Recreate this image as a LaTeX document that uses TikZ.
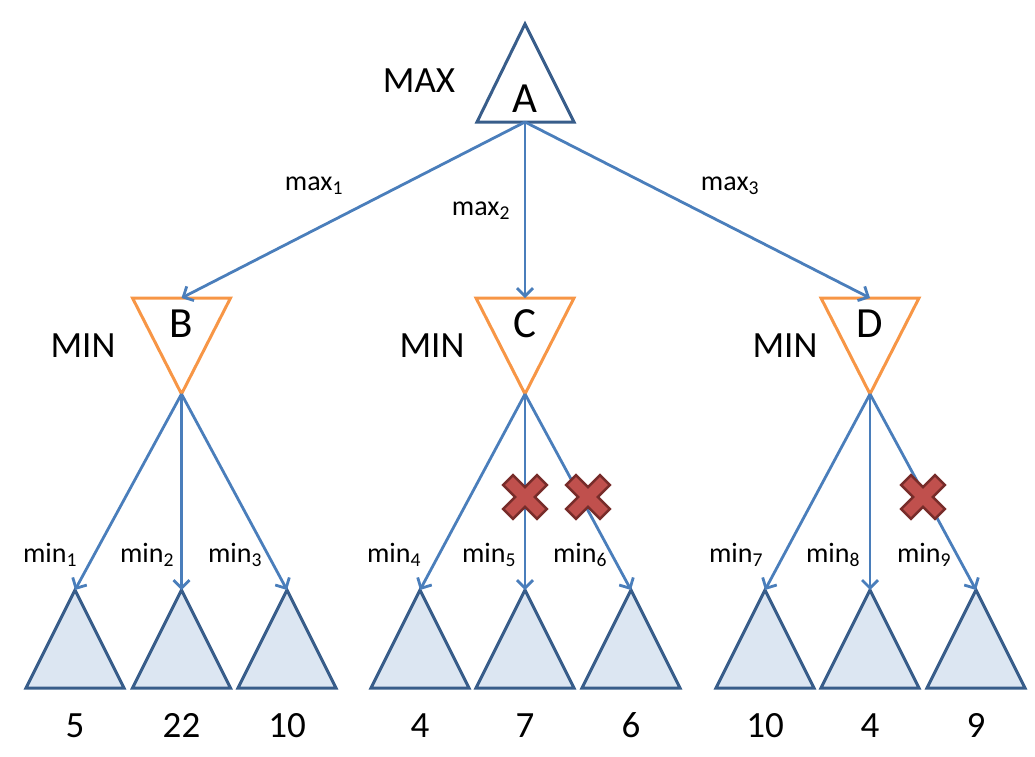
\documentclass[tikz,border=0pt]{standalone}
\usepackage{fontspec}
\setmainfont{Carlito}
\usetikzlibrary{arrows.meta}
\definecolor{maxline}{HTML}{385D8A}
\definecolor{minline}{HTML}{F79646}
\definecolor{leaffill}{HTML}{DCE6F2}
\definecolor{edgecol}{HTML}{4A7EBB}
\definecolor{crossfill}{HTML}{C0504D}
\definecolor{crossline}{HTML}{772C2A}
\begin{document}
\begin{tikzpicture}[x=1pt,y=-1pt,
  maxtri/.style={draw=maxline,line width=3pt,line join=miter},
  mintri/.style={draw=minline,line width=3pt,line join=miter},
  leaftri/.style={draw=maxline,fill=leaffill,line width=3pt,line join=miter},
  edge/.style={draw=edgecol,line width=2.8pt,-{Straight Barb[length=8pt,width=16pt,line width=2.8pt]}},
  big/.style={font=\fontsize{43}{50}\selectfont,anchor=base,inner sep=0pt},
  mid/.style={font=\fontsize{37}{44}\selectfont,anchor=base,inner sep=0pt},
  small/.style={font=\fontsize{28}{33}\selectfont,anchor=base,inner sep=0pt},
  xmark/.style={fill=crossfill,draw=crossline,line width=2.5pt,line join=miter}]
\useasboundingbox (0,0) rectangle (1035,756);

% root MAX node
\draw[maxtri] (477,122) -- (525,24) -- (574,122) -- cycle;
\coordinate (A) at (525,122);
\node[big] (Alab) at (525,112) {A};
\node[mid] (maxlab) at (419,92) {MAX};

% MIN nodes B, C, D
\foreach \n/\x in {B/181.5,C/525,D/870}{
  \draw[mintri] (\x-49,298) -- (\x+49,298) -- (\x,394) -- cycle;
  \coordinate (\n-top) at (\x,298);
  \coordinate (\n) at (\x,394);
  \node[big] (\n-lab) at (\x,337) {\n};
}
\node[mid] (minB) at (83,357) {MIN};
\node[mid] (minC) at (432,357) {MIN};
\node[mid] (minD) at (785,357) {MIN};

% leaf subtrees with their values
\foreach \i/\x/\v in {1/75/5,2/181.5/22,3/287/10,4/420/4,5/525/7,6/631/6,7/765/10,8/870/4,9/976/9}{
  \draw[leaftri] (\x-49,688) -- (\x,590) -- (\x+49,688) -- cycle;
  \coordinate (L\i) at (\x,590);
  \node[mid] (v\i) at (\x,737) {\v};
}

% edges from the root
\draw[edge] (A) -- (B-top);
\draw[edge] (A) -- (C-top);
\draw[edge] (A) -- (D-top);
\node[small] (m1) at (314,190) {max\textsubscript{1}};
\node[small] (m2) at (481,215) {max\textsubscript{2}};
\node[small] (m3) at (730,190) {max\textsubscript{3}};

% edges from the MIN nodes
\draw[edge] (B) -- (L1);
\draw[edge] (B) -- (L2);
\draw[edge] (B) -- (L3);
\draw[edge] (C) -- (L4);
\draw[edge] (C) -- (L5);
\draw[edge] (C) -- (L6);
\draw[edge] (D) -- (L7);
\draw[edge] (D) -- (L8);
\draw[edge] (D) -- (L9);
\foreach \i/\x in {1/50,2/147,3/235,4/394,5/489,6/580,7/736,8/833,9/924}{
  \node[small] (n\i) at (\x,562) {min\textsubscript{\i}};
}

% pruned branches
\foreach \x in {525,588,923}{
  \draw[xmark,shift={(\x,497)},rotate=45]
    (-7,-24) -- (7,-24) -- (7,-7) -- (24,-7) -- (24,7) -- (7,7) --
    (7,24) -- (-7,24) -- (-7,7) -- (-24,7) -- (-24,-7) -- (-7,-7) -- cycle;
}
\end{tikzpicture}
\end{document}
